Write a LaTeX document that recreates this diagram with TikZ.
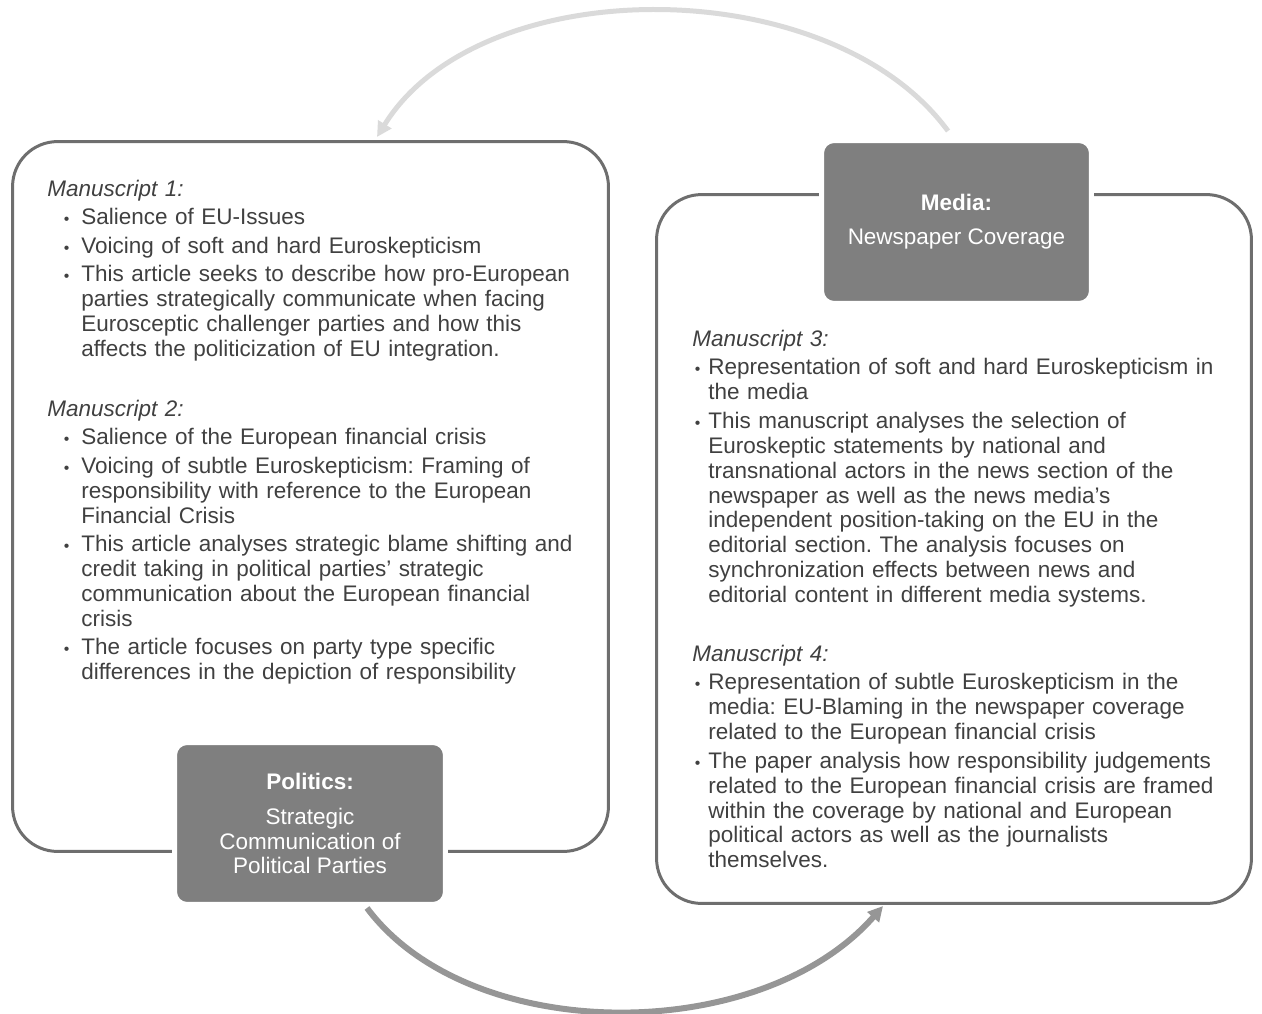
\documentclass[tikz,border=0pt]{standalone}
\usepackage{fontspec}
\setmainfont{Liberation Sans}
\usepackage{enumitem}
\usetikzlibrary{arrows.meta}
\definecolor{FrameGray}{HTML}{6E6E6E}
\definecolor{BoxGray}{HTML}{7F7F7F}
\definecolor{TextGray}{HTML}{404040}
\definecolor{LightArc}{HTML}{DADADA}
\definecolor{DarkArc}{HTML}{969696}
\newlist{msitems}{itemize}{1}
\setlist[msitems]{label={\small\textbullet}, parsep=0pt, itemsep=1.9pt, topsep=1.9pt, partopsep=0pt}
\frenchspacing

\begin{document}
\begin{tikzpicture}[x=0.02cm, y=-0.02cm,
  every node/.style={font=\fontsize{12.8pt}{14.2pt}\selectfont},
  outerbox/.style={draw=FrameGray, line width=0.06cm, rounded corners=0.9cm, inner sep=0},
  labelbox/.style={fill=BoxGray, draw=white, line width=0.1cm, rounded corners=0.25cm, text=white, align=center, inner sep=0},
  mstext/.style={text=TextGray, text width=11cm, align=left, inner sep=0, anchor=north west}]
\useasboundingbox (0,0) rectangle (1262,1014);

% frames
\node[outerbox, minimum width=11.92cm, minimum height=14.2cm] (polframe) at (310.5,496.5) {};
\node[outerbox, minimum width=11.9cm, minimum height=14.18cm] (medframe) at (954,549) {};

% manuscripts, politics side
\node[mstext] (ms1) at (47,180) {\textit{Manuscript 1:}
  \begin{msitems}[leftmargin=0.68cm, labelsep=0.24cm]
  \item Salience of EU-Issues
  \item Voicing of soft and hard Euroskepticism
  \item This article seeks to describe how pro-European\\ parties strategically communicate when facing\\ Eurosceptic challenger parties and how this\\ affects the politicization of EU integration.
  \end{msitems}};
\node[mstext] (ms2) at (47,400) {\textit{Manuscript 2:}
  \begin{msitems}[leftmargin=0.68cm, labelsep=0.24cm]
  \item Salience of the European financial crisis
  \item Voicing of subtle Euroskepticism: Framing of\\ responsibility with reference to the European\\ Financial Crisis
  \item This article analyses strategic blame shifting and\\ credit taking in political parties’ strategic\\ communication about the European financial\\ crisis
  \item The article focuses on party type specific\\ differences in the depiction of responsibility
  \end{msitems}};

% manuscripts, media side
\node[mstext, text width=11.2cm] (ms3) at (692,330) {\textit{Manuscript 3:}
  \begin{msitems}[leftmargin=0.32cm, labelsep=0.16cm]
  \item Representation of soft and hard Euroskepticism in\\ the media
  \item This manuscript analyses the selection of\\ Euroskeptic statements by national and\\ transnational actors in the news section of the\\ newspaper as well as the news media’s\\ independent position-taking on the EU in the\\ editorial section. The analysis focuses on\\ synchronization effects between news and\\ editorial content in different media systems.
  \end{msitems}};
\node[mstext, text width=11.2cm] (ms4) at (692,645) {\textit{Manuscript 4:}
  \begin{msitems}[leftmargin=0.32cm, labelsep=0.16cm]
  \item Representation of subtle Euroskepticism in the\\ media: EU-Blaming in the newspaper coverage\\ related to the European financial crisis
  \item The paper analysis how responsibility judgements\\ related to the European financial crisis are framed\\ within the coverage by national and European\\ political actors as well as the journalists\\ themselves.
  \end{msitems}};

% label boxes
\node[labelbox, minimum width=5.4cm, minimum height=3.26cm] (media) at (956.5,222) {\textbf{Media:}\\[0.18cm] Newspaper Coverage};
\node[labelbox, minimum width=5.42cm, minimum height=3.24cm] (politics) at (310,823.5) {\textbf{Politics:}\\[0.2cm] Strategic\\ Communication of\\ Political Parties};

% arcs
\coordinate (topstart) at (948,131);
\coordinate (topend) at (377,137);
\draw[-{Triangle[length=0.3cm,width=0.3cm]}, LightArc, line width=0.1cm] (topstart) .. controls (830,-30) and (480,-30) .. (topend);
\coordinate (botstart) at (367,908);
\coordinate (botend) at (883,906);
\draw[-{Triangle[length=0.3cm,width=0.3cm]}, DarkArc, line width=0.12cm] (botstart) .. controls (470,1046) and (760,1046) .. (botend);
\end{tikzpicture}
\end{document}
